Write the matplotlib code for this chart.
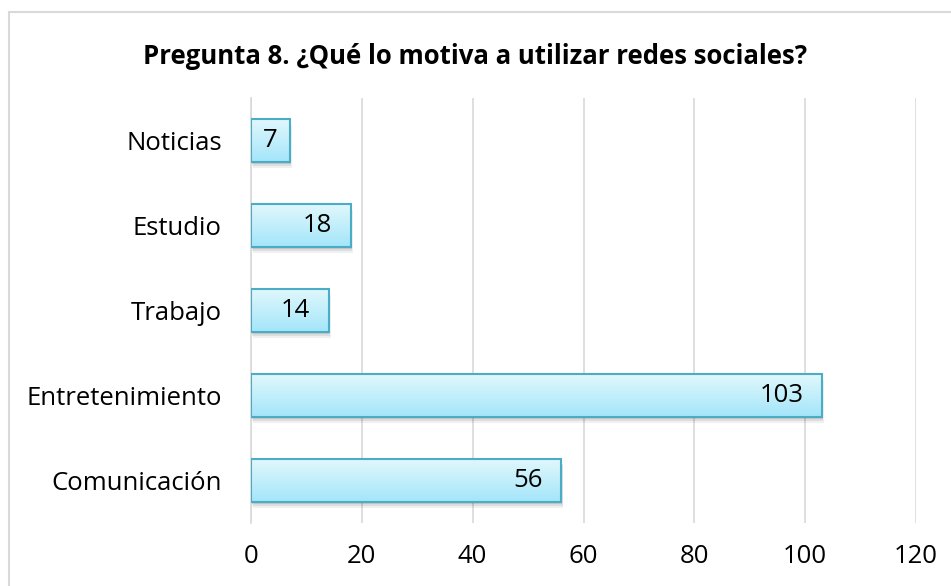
import matplotlib
matplotlib.use('Agg')
from matplotlib import pyplot as plt
from matplotlib.patches import Rectangle
import numpy as np

categories = ['Comunicación', 'Entretenimiento', 'Trabajo', 'Estudio', 'Noticias']
values = [56, 103, 14, 18, 7]
xticks = [0, 20, 40, 60, 80, 100, 120]
title = 'Pregunta 8. ¿Qué lo motiva a utilizar redes sociales?'

plt.rcParams['font.family'] = ['Open Sans', 'DejaVu Sans']

fig = plt.figure(figsize=(9.51, 5.86), dpi=100)
# outer chart frame (cropped on right and bottom)
fig.patches.append(Rectangle((9 / 951, -0.1), 1.2, 1 - 12 / 586 + 0.1, transform=fig.transFigure,
                             fill=False, edgecolor='#d9d9d9', linewidth=1.5))

ax = fig.add_axes([251 / 951, 1 - 523 / 586, (916 - 251) / 951, (523 - 98) / 586])

ypos = np.arange(len(categories))
h = 0.5
grad = np.linspace(0, 1, 100).reshape(-1, 1)
top = np.array([0.88, 0.97, 0.99])
bot = np.array([0.64, 0.90, 0.98])
img = (bot + (top - bot) * grad).reshape(100, 1, 3)

for y, v in zip(ypos, values):
    # soft shadow
    for k, a in [(0.07, 0.06), (0.05, 0.08), (0.03, 0.10)]:
        ax.add_patch(Rectangle((k * 5, y - h / 2 - k), v, h, facecolor='#000000', alpha=a,
                               edgecolor='none', zorder=2))
    im = ax.imshow(img, extent=(0, v, y - h / 2, y + h / 2), aspect='auto', origin='lower', zorder=3)
    r = Rectangle((0, y - h / 2), v, h, facecolor='none', edgecolor='#4bacc6', linewidth=1.5, zorder=4)
    ax.add_patch(r)
    im.set_clip_path(r)
    if v < 10:
        ax.text(v / 2, y, str(v), ha='center', va='center', fontsize=18.5, zorder=5)
    else:
        ax.text(v - 3.3, y, str(v), ha='right', va='center', fontsize=18.5, zorder=5)

ax.set_xlim(0, 120)
ax.set_ylim(-0.5, len(categories) - 0.5)
ax.set_yticks(ypos)
ax.set_yticklabels(categories, fontsize=18.5)
ax.set_xticks(xticks)
ax.set_xticklabels([str(t) for t in xticks], fontsize=18.5)
ax.tick_params(length=0)
ax.tick_params(axis='y', pad=21)
ax.tick_params(axis='x', pad=15)
ax.grid(axis='x', color='#d9d9d9', linewidth=1.2, zorder=0)
ax.set_axisbelow(True)
for s in ['top', 'right', 'bottom']:
    ax.spines[s].set_visible(False)
ax.spines['left'].set_color('#d9d9d9')
ax.spines['left'].set_linewidth(1.2)

fig.text(0.5, 1 - 57 / 586, title, ha='center', va='center', fontsize=18.5, fontweight='bold')

plt.savefig('out.png', dpi=100)
